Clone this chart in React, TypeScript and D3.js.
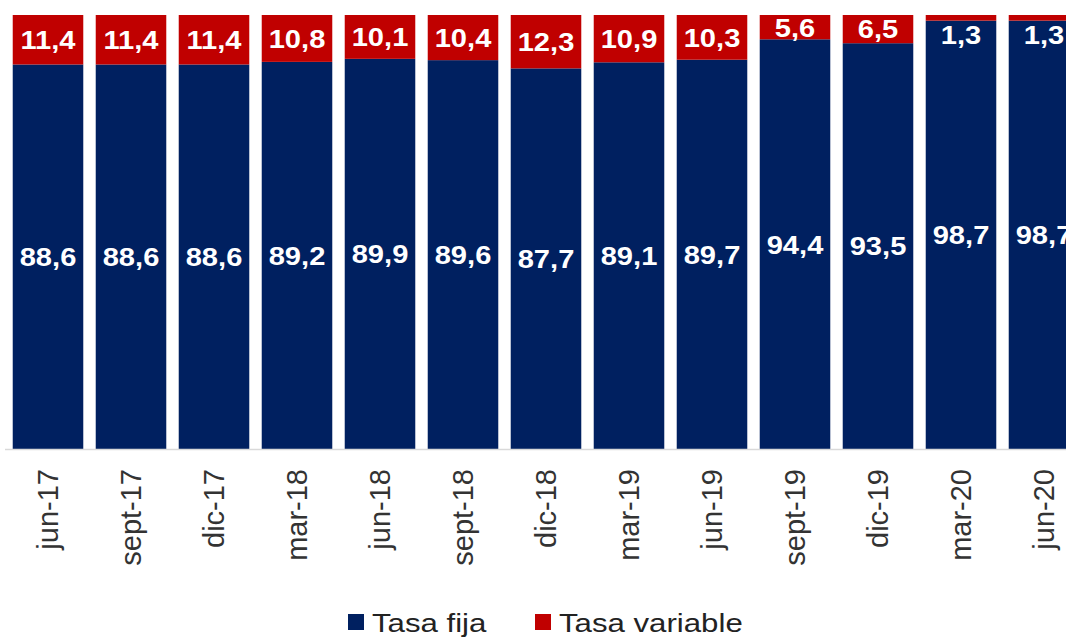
import React, { useRef, useEffect } from 'react';
import * as d3 from 'd3';

const categories = ['jun-17', 'sept-17', 'dic-17', 'mar-18', 'jun-18', 'sept-18', 'dic-18', 'mar-19', 'jun-19', 'sept-19', 'dic-19', 'mar-20', 'jun-20'];
const tasaFija = [88.6, 88.6, 88.6, 89.2, 89.9, 89.6, 87.7, 89.1, 89.7, 94.4, 93.5, 98.7, 98.7];
const tasaVariable = [11.4, 11.4, 11.4, 10.8, 10.1, 10.4, 12.3, 10.9, 10.3, 5.6, 6.5, 1.3, 1.3];
const seriesNames = ['Tasa fija', 'Tasa variable'];
const colors = ['#002060', '#C00000'];

const fmt = (v: number) => v.toFixed(1).replace('.', ',');

const App = () => {
    const chartRef = useRef<SVGSVGElement>(null);

    useEffect(() => {
        const width = 1066;
        const height = 637;
        const baseY = 449;
        const topY = 15;

        const x = d3.scaleBand<string>()
            .domain(categories)
            .range([6.5, 1085.5])
            .paddingInner(0.15)
            .paddingOuter(0.075);

        const y = d3.scaleLinear()
            .domain([0, 100])
            .range([baseY, topY]);

        const svg = d3.select(chartRef.current)
            .attr('width', width)
            .attr('height', height);

        svg.selectAll('*').remove();

        const rows = categories.map((c, i) => ({ cat: c, fija: tasaFija[i], variable: tasaVariable[i] }));
        const stack = d3.stack<any>().keys(['fija', 'variable'])(rows);

        const font = '"Liberation Sans", Arial, sans-serif';

        stack.forEach((layer, li) => {
            const g = svg.append('g').attr('fill', colors[li]);
            g.selectAll('rect')
                .data(layer)
                .join('rect')
                .attr('x', d => x(d.data.cat)!)
                .attr('y', d => y(d[1]))
                .attr('width', x.bandwidth())
                .attr('height', d => y(d[0]) - y(d[1]));

            svg.append('g')
                .selectAll('text')
                .data(layer)
                .join('text')
                .attr('transform', d => {
                    const h = y(d[0]) - y(d[1]);
                    const cy = h < 15 ? y(d[1]) + 20 : (y(d[0]) + y(d[1])) / 2;
                    return `translate(${x(d.data.cat)! + x.bandwidth() / 2},${cy}) scale(1.12,1)`;
                })
                .attr('text-anchor', 'middle')
                .attr('dy', '0.36em')
                .attr('fill', '#ffffff')
                .attr('font-family', font)
                .attr('font-weight', 'bold')
                .attr('font-size', 26)
                .text(d => fmt(d[1] - d[0]));
        });

        // axis line
        svg.append('line')
            .attr('x1', 5)
            .attr('x2', width)
            .attr('y1', baseY + 0.5)
            .attr('y2', baseY + 0.5)
            .attr('stroke', '#d9d9d9')
            .attr('stroke-width', 1.5);

        svg.append('g')
            .selectAll('text')
            .data(categories)
            .join('text')
            .attr('transform', d => `translate(${x(d)! + x.bandwidth() / 2},469) rotate(-90)`)
            .attr('text-anchor', 'end')
            .attr('dy', '0.35em')
            .attr('fill', '#333333')
            .attr('font-family', font)
            .attr('font-size', 29)
            .text(d => d);

        // legend
        const legendX = [348, 535];
        const legend = svg.append('g');
        seriesNames.forEach((name, i) => {
            legend.append('rect')
                .attr('x', legendX[i])
                .attr('y', 614)
                .attr('width', 16)
                .attr('height', 16)
                .attr('fill', colors[i]);
            legend.append('text')
                .attr('transform', `translate(${legendX[i] + 24},632) scale(1.2,1)`)
                .attr('fill', '#222222')
                .attr('font-family', font)
                .attr('font-size', 26)
                .text(name);
        });
    }, []);

    return (
        <svg ref={chartRef} style={{ position: 'absolute', left: 0, top: 0 }}></svg>
    );
};

export default App;
